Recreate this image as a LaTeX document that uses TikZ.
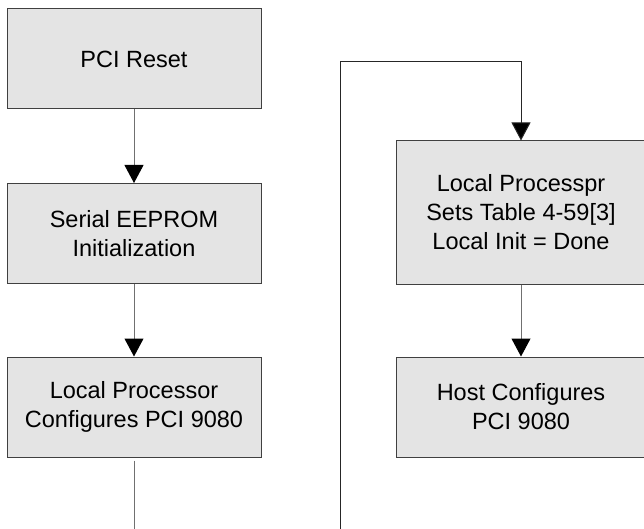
\documentclass[tikz,border=0pt]{standalone}
\usepackage{fontspec}
\setmainfont{Liberation Sans}
\usetikzlibrary{arrows.meta}
\definecolor{boxfill}{HTML}{E4E4E4}
\definecolor{boxline}{HTML}{404040}
\definecolor{arrline}{HTML}{707070}
\tikzset{
  flowbox/.style={draw=boxline, line width=1pt, fill=boxfill, rectangle, align=center,
    font=\fontsize{23.5}{29}\selectfont, inner sep=0pt},
  leftbox/.style={flowbox, minimum width=254pt, minimum height=100pt},
  rightbox/.style={flowbox, minimum width=250pt, minimum height=100pt},
  flowarr/.style={draw=arrline, line width=1pt, -{Triangle[width=19pt,length=18pt,fill=black,color=black]}},
  loopline/.style={draw=black!85, line width=1pt}
}
\begin{document}
\begin{tikzpicture}[x=1pt,y=-1pt]
\useasboundingbox (0,0) rectangle (644,529);
\node[leftbox] (reset) at (134,59) {PCI Reset};
\node[leftbox] (eeprom) at (134,233.5) {Serial EEPROM\\Initialization};
\node[leftbox] (lpc) at (134,407) {Local Processor\\Configures PCI 9080};
\node[rightbox, minimum height=143pt] (lps) at (521,212.5) {Local Processpr\\Sets Table 4-59[3]\\Local Init = Done};
\node[rightbox] (host) at (521,407) {Host Configures\\PCI 9080};
\coordinate (lbot) at (134,530);
\coordinate (rbot) at (340,530);
\coordinate (ltop) at (340,62);
\draw[flowarr] (reset) -- (eeprom);
\draw[flowarr] (eeprom) -- (lpc);
\draw[flowarr] (lps) -- (host);
\draw[draw=arrline, line width=1pt] ([yshift=-3pt]lpc.south) -- (lbot);
\draw[loopline, -{Triangle[width=19pt,length=18pt,fill=black]}] (rbot) -- (ltop) -| (lps.north);
\end{tikzpicture}
\end{document}
